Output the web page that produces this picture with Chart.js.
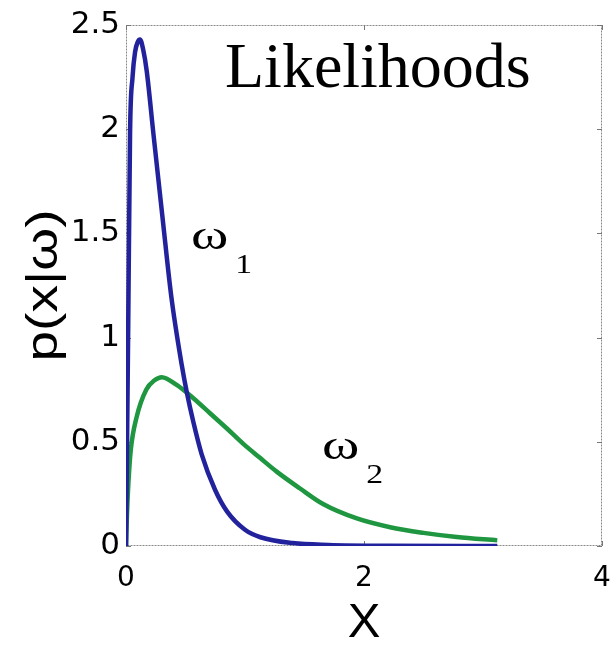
<!DOCTYPE html>
<html>
<head>
<meta charset="utf-8">
<script src="https://cdn.jsdelivr.net/npm/chart.js@4"></script>
<style>
html,body{margin:0;padding:0;background:#fff;}
#wrap{width:614px;height:646px;position:relative;}
</style>
</head>
<body>
<div id="wrap"><canvas id="c" width="614" height="646"></canvas></div>
<script>
// ---- data ----
const xTicks = [0, 2, 4];
const yTicks = [0, 0.5, 1, 1.5, 2, 2.5];
const blueX = [0, 0.008, 0.019, 0.034, 0.055, 0.076, 0.1, 0.118, 0.145, 0.174, 0.23, 0.31, 0.38, 0.468, 0.51, 0.566, 0.636, 0.748, 0.85, 1.0, 1.13, 1.4, 1.7, 2.2, 3.12];
const blueY = [0, 0.45, 1.08, 1.98, 2.25, 2.37, 2.42, 2.43, 2.38, 2.28, 1.98, 1.56, 1.2, 0.87, 0.74, 0.595, 0.44, 0.27, 0.165, 0.078, 0.042, 0.014, 0.005, 0.001, 0];
const greenX = [0, 0.008, 0.02, 0.04, 0.09, 0.17, 0.24, 0.3, 0.426, 0.566, 0.706, 0.846, 0.986, 1.126, 1.266, 1.46, 1.66, 1.94, 2.22, 2.5, 2.78, 3.12];
const greenY = [0, 0.15, 0.3, 0.46, 0.62, 0.75, 0.795, 0.81, 0.773, 0.709, 0.637, 0.565, 0.49, 0.423, 0.357, 0.277, 0.2, 0.132, 0.09, 0.063, 0.043, 0.027];
const seriesNames = ['ω1', 'ω2'];
const chartTitle = 'Likelihoods';
const xTitle = 'X';
const yTitle = 'p(x|ω)';

const toPts = (xs, ys) => xs.map((x, i) => ({x: x, y: ys[i]}));

const decor = {
  id: 'decor',
  beforeDatasetsDraw(chart) {
    const {ctx, chartArea: a, scales} = chart;
    ctx.save();
    ctx.strokeStyle = '#8a8a8a';
    ctx.lineWidth = 1;
    ctx.setLineDash([2, 1]);
    ctx.strokeRect(a.left + 0.5, a.top + 0.5, a.right - a.left - 1, a.bottom - a.top - 1);
    ctx.setLineDash([]);
    ctx.strokeStyle = '#777';
    xTicks.forEach(v => {
      const px = Math.round(scales.x.getPixelForValue(v)) + 0.5;
      ctx.beginPath();
      ctx.moveTo(px, a.bottom); ctx.lineTo(px, a.bottom - 5);
      ctx.moveTo(px, a.top); ctx.lineTo(px, a.top + 5);
      ctx.stroke();
    });
    yTicks.forEach(v => {
      const py = Math.round(scales.y.getPixelForValue(v)) + 0.5;
      ctx.beginPath();
      ctx.moveTo(a.left, py); ctx.lineTo(a.left + 5, py);
      ctx.moveTo(a.right, py); ctx.lineTo(a.right - 5, py);
      ctx.stroke();
    });
    ctx.restore();
  },
  afterDraw(chart) {
    const {ctx, chartArea: a} = chart;
    ctx.save();
    ctx.fillStyle = '#000';
    ctx.textAlign = 'left';
    ctx.textBaseline = 'alphabetic';
    // title inside plot
    ctx.font = '64px "Liberation Serif", "Times New Roman", serif';
    ctx.fillText(chartTitle, 225, 87);
    // series labels
    const drawOmega = (label, x, y) => {
      ctx.save();
      ctx.translate(x, y);
      ctx.scale(1.35, 1);
      ctx.font = '42px "Liberation Serif", serif';
      ctx.fillText(label[0], 0, 0);
      const w = ctx.measureText(label[0]).width;
      ctx.restore();
      ctx.save();
      ctx.translate(x + w * 1.35 + 7, y + 24);
      ctx.scale(1.25, 1);
      ctx.font = '27px "Liberation Serif", serif';
      ctx.fillText(label.slice(1), 0, 0);
      ctx.restore();
    };
    drawOmega(seriesNames[0], 191, 249);
    drawOmega(seriesNames[1], 322, 459);
    // x title
    ctx.font = '49px "Liberation Sans", Arial, sans-serif';
    ctx.textAlign = 'center';
    ctx.fillText(xTitle, (a.left + a.right) / 2, 637);
    // y title
    ctx.save();
    ctx.translate(57, (a.top + a.bottom) / 2);
    ctx.rotate(-Math.PI / 2);
    ctx.scale(1.25, 1);
    ctx.font = '44px "Liberation Sans", Arial, sans-serif';
    ctx.textAlign = 'center';
    ctx.fillText(yTitle, 0, 0);
    ctx.restore();
    ctx.restore();
  }
};

new Chart(document.getElementById('c'), {
  type: 'scatter',
  data: {
    datasets: [
      {label: seriesNames[0], data: toPts(blueX, blueY), showLine: true, borderColor: '#22229c', backgroundColor: '#22229c', borderWidth: 4.5, pointRadius: 0, cubicInterpolationMode: 'monotone'},
      {label: seriesNames[1], data: toPts(greenX, greenY), showLine: true, borderColor: '#1f9640', backgroundColor: '#1f9640', borderWidth: 4.5, pointRadius: 0, cubicInterpolationMode: 'monotone'}
    ]
  },
  options: {
    responsive: false,
    animation: false,
    events: [],
    layout: {padding: {top: 25, right: 12, left: 0, bottom: 0}},
    plugins: {legend: {display: false}, tooltip: {enabled: false}},
    scales: {
      x: {
        type: 'linear', min: 0, max: 4,
        afterBuildTicks: s => { s.ticks = xTicks.map(v => ({value: v})); },
        afterFit: s => { s.height = 100; s.paddingRight = 0; s.paddingLeft = 0; },
        grid: {display: false, drawTicks: false},
        border: {display: false},
        ticks: {color: '#000', padding: 16, maxRotation: 0, font: {family: '"DejaVu Sans", sans-serif', size: 28}}
      },
      y: {
        type: 'linear', min: 0, max: 2.5,
        afterBuildTicks: s => { s.ticks = yTicks.map(v => ({value: v})); },
        afterFit: s => { s.width = 126; },
        grid: {display: false, drawTicks: false},
        border: {display: false},
        ticks: {color: '#000', padding: 6, font: {family: '"DejaVu Sans", sans-serif', size: 31}, callback: v => String(v)}
      }
    }
  },
  plugins: [decor]
});
</script>
</body>
</html>
